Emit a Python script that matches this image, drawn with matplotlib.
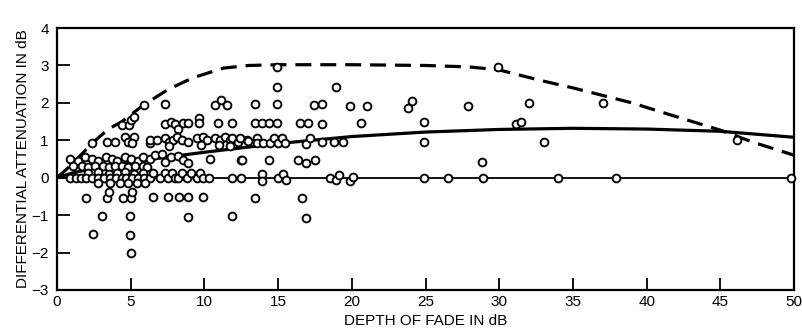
import matplotlib
matplotlib.use("Agg")
import matplotlib.pyplot as plt
import numpy as np

plt.rcParams["font.family"] = ["Liberation Sans", "DejaVu Sans"]

# ── measured points (depth of fade dB, differential attenuation dB) ─────────
# dense cluster below 7 dB
low_x = [0.9, 1.4, 1.9, 2.4, 2.8, 3.3, 3.7, 4.1, 4.6, 5.0, 5.5, 5.8, 6.3,
         1.1, 1.7, 2.1, 2.6, 3.1, 3.5, 3.9, 4.4, 4.8, 5.3, 5.8, 6.1,
         2.1, 2.8, 3.5, 4.1, 4.6, 5.2, 5.8,
         0.9, 1.3, 1.6, 2.0, 2.4, 2.8, 3.2, 3.6, 4.0, 4.4, 4.7, 5.1, 5.5, 5.9, 6.3,
         2.8, 3.6, 4.3, 4.8, 5.4, 6.0,
         2.4, 3.4, 3.9, 4.6, 5.2, 4.8, 5.1, 6.3, 4.4, 4.9, 5.0, 5.2, 5.9,
         2.0, 3.4, 3.5, 4.5, 5.0, 5.1, 3.05, 4.95, 2.45, 4.95, 5.0]
low_y = [0.5, 0.45, 0.55, 0.5, 0.45, 0.55, 0.5, 0.45, 0.55, 0.5, 0.45, 0.55, 0.5,
         0.3, 0.32, 0.28, 0.3, 0.32, 0.28, 0.3, 0.32, 0.28, 0.3, 0.32, 0.28,
         0.12, 0.14, 0.1, 0.12, 0.14, 0.1, 0.12,
         0.0, 0.0, 0.0, 0.0, 0.0, 0.0, 0.0, 0.0, 0.0, 0.0, 0.0, 0.0, 0.0, 0.0, 0.0,
         -0.15, -0.15, -0.15, -0.15, -0.15, -0.15,
         0.93, 0.95, 0.95, 1.08, 1.08, 0.95, 0.92, 0.92, 1.42, 1.42, 1.55, 1.62, 1.95,
         -0.53, -0.53, -0.38, -0.53, -0.53, -0.38, -1.03, -1.03, -1.5, -1.52, -2.0]

# 6 to 13 dB
mid_x = [7.3, 10.7, 11.1, 11.5,
         7.3, 7.7, 8.0, 8.2, 8.55, 8.9, 9.6, 9.6, 10.9, 11.9,
         6.3, 6.8, 7.3, 7.6, 7.9, 8.15, 8.5, 8.9, 9.5, 9.9, 10.2, 10.7, 11.05,
         11.4, 11.7, 11.9, 12.3, 12.9, 7.6, 9.8, 11.0, 11.7,
         6.65, 7.1, 7.3, 7.7, 8.2, 8.55, 8.9, 10.4, 12.5,
         6.5, 7.0, 7.3, 7.5, 7.8, 8.0, 8.2, 8.5, 8.8, 9.1, 9.5, 9.7, 9.9, 10.3, 11.9, 12.5,
         6.5, 7.5, 8.3, 8.9, 9.9, 8.9, 11.9]
mid_y = [1.97, 1.95, 2.08, 1.95,
         1.43, 1.5, 1.43, 1.3, 1.46, 1.46, 1.6, 1.46, 1.46, 1.46,
         1.0, 1.0, 1.05, 0.95, 1.0, 1.1, 1.0, 0.95, 1.05, 1.1, 1.0, 1.05, 1.0,
         1.1, 1.0, 1.05, 0.95, 1.0, 0.85, 0.88, 0.88, 0.85,
         0.6, 0.62, 0.43, 0.54, 0.57, 0.46, 0.4, 0.49, 0.46,
         0.12, 0.0, 0.12, 0.0, 0.12, 0.0, 0.0, 0.12, 0.0, 0.12, 0.0, 0.12, 0.0, 0.0, 0.0, 0.0,
         -0.51, -0.51, -0.51, -0.51, -0.51, -1.05, -1.03]

# 12 to 20 dB
upper_x = [12.4, 12.96, 13.57, 13.57, 13.98, 14.45, 14.72, 14.99, 15.26, 15.47,
           16.89, 17.16, 17.98, 18.79, 19.4,
           13.4, 14.9, 17.4, 18.0, 19.9, 21.0,
           13.43, 13.91, 14.38, 14.93, 16.49, 17.03, 17.98,
           14.9, 14.9, 18.9,
           12.55, 14.38, 16.35, 16.9, 17.5,
           13.9, 13.9, 15.0, 15.3, 15.5, 18.5, 18.9, 19.1, 19.9, 20.1,
           13.4, 16.6, 16.9]
upper_y = [1.05, 0.97, 1.05, 0.92, 0.92, 0.92, 1.05, 0.92, 1.05, 0.92,
           0.89, 1.05, 0.95, 0.95, 0.95,
           1.97, 1.97, 1.95, 1.97, 1.92, 1.92,
           1.46, 1.46, 1.46, 1.46, 1.46, 1.46, 1.43,
           2.97, 2.43, 2.43,
           0.46, 0.46, 0.46, 0.38, 0.46,
           0.1, -0.1, 0.0, 0.1, -0.05, 0.0, -0.05, 0.08, -0.08, 0.03,
           -0.53, -0.53, -1.07]

# deep fades
deep_x = [20.6, 23.8, 24.1, 24.9, 24.9, 24.9, 26.5, 27.9, 28.8, 28.9,
          29.9, 31.1, 31.5, 32.0, 33.0, 34.0, 37.0, 37.9, 46.1, 49.8]
deep_y = [1.46, 1.86, 2.05, 1.49, 0.95, 0.0, 0.0, 1.92, 0.43, 0.0,
          2.97, 1.43, 1.49, 2.0, 0.95, 0.0, 2.0, 0.0, 1.0, 0.0]

# fitted curves
mean_x = [0, 1, 3, 6.5, 10, 13, 16, 20, 25, 30, 35, 40, 45, 50]
mean_y = [0, 0.12, 0.3, 0.5, 0.68, 0.82, 0.95, 1.1, 1.22, 1.29, 1.32, 1.3, 1.24, 1.08]

bound_x = [0, 1, 2.4, 3.5, 4.4, 5.9, 7.5, 9.2, 11.3, 13, 15, 20, 25, 28, 30,
           32.8, 35, 37, 39, 41.6, 45, 47.2, 50]
bound_y = [0, 0.35, 0.93, 1.3, 1.5, 1.95, 2.35, 2.67, 2.93, 3.0, 3.02, 3.02, 3.0,
           2.96, 2.88, 2.6, 2.4, 2.2, 2.0, 1.68, 1.27, 0.95, 0.6]


fig = plt.figure(figsize=(8.03, 3.34), dpi=100)
ax = fig.add_axes([0.071, 0.132, 0.918, 0.784])

ax.axhline(0, color="black", linewidth=1.3, zorder=2)
ax.plot(mean_x, mean_y, color="black", linewidth=2.3, zorder=3,
        solid_capstyle="butt")
ax.plot(bound_x, bound_y, color="black", linewidth=2.3, zorder=3,
        dashes=(5.0, 2.8))

xs = low_x + mid_x + upper_x + deep_x
ys = low_y + mid_y + upper_y + deep_y
ax.plot(xs, ys, linestyle="none", marker="o", markersize=5.6,
        markerfacecolor="white", markeredgecolor="black",
        markeredgewidth=1.35, zorder=4, clip_on=False)

ax.set_xlim(0, 50)
ax.set_ylim(-3, 4)
ax.set_xticks(np.arange(0, 51, 5))
ax.set_yticks(np.arange(-3, 5, 1))
ax.set_yticklabels(["\u22123", "\u22122", "\u22121", "0", "1", "2", "3", "4"])
ax.tick_params(direction="in", length=9, width=1.3, labelsize=11,
               top=False, right=False)
ax.tick_params(axis="y", pad=6)
ax.tick_params(axis="x", pad=4)
for s in ax.spines.values():
    s.set_linewidth(1.6)

ax.set_xlabel("DEPTH OF FADE IN dB", fontsize=11, labelpad=3)
ax.set_ylabel("DIFFERENTIAL ATTENUATION IN dB", fontsize=11, labelpad=1)

fig.savefig("out.png", dpi=100)
